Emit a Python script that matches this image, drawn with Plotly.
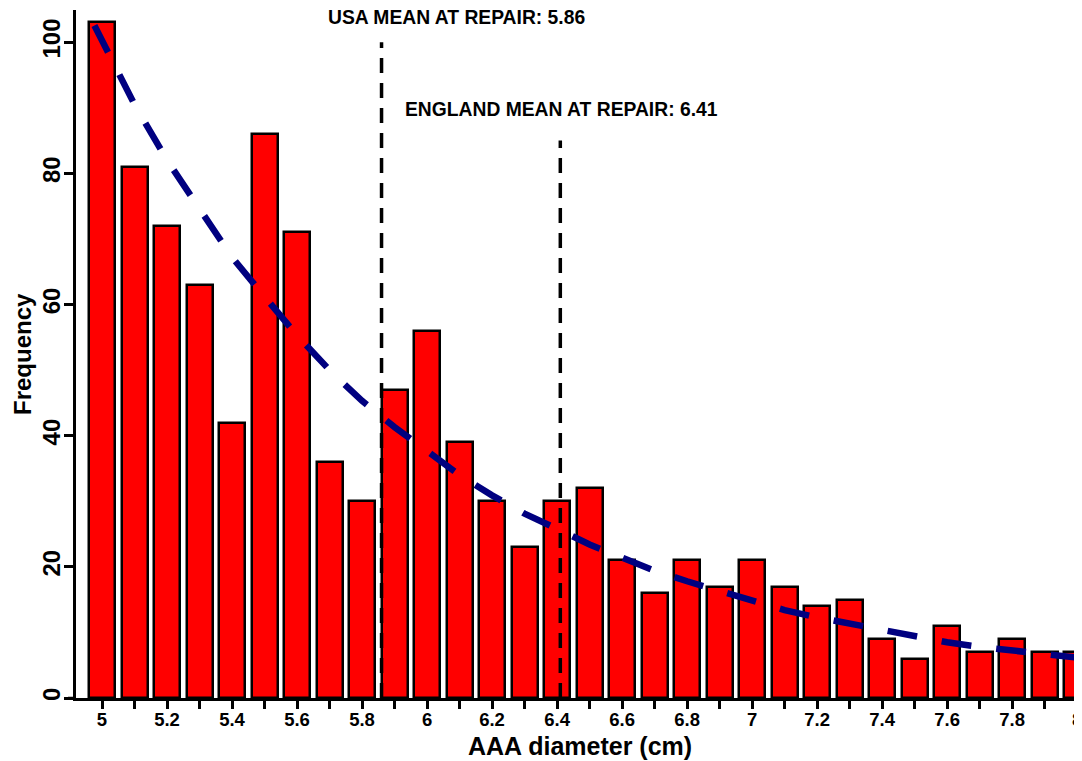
import plotly.graph_objects as go

# Histogram data (AAA diameter bins, cm) and frequencies
diameters = [5.0, 5.1, 5.2, 5.3, 5.4, 5.5, 5.6, 5.7, 5.8, 5.9, 6.0, 6.1, 6.2, 6.3, 6.4,
             6.5, 6.6, 6.7, 6.8, 6.9, 7.0, 7.1, 7.2, 7.3, 7.4, 7.5, 7.6, 7.7, 7.8, 7.9, 8.0]
frequency = [103, 81, 72, 63, 42, 86, 71, 36, 30, 47, 56, 39, 30, 23, 30,
             32, 21, 16, 21, 17, 21, 17, 14, 15, 9, 6, 11, 7, 9, 7, 7]

# Fitted curve
curve_x = [4.9, 5.0, 5.1, 5.2, 5.3, 5.4, 5.5, 5.6, 5.7, 5.8, 5.9, 6.0, 6.1, 6.2, 6.3, 6.4,
           6.5, 6.6, 6.7, 6.8, 6.9, 7.0, 7.1, 7.2, 7.3, 7.4, 7.5, 7.6, 7.7, 7.8, 7.9, 8.0, 8.1]
curve_y = [110, 100, 90.5, 82, 74.5, 67.2, 61.2, 55.3, 50.0, 45.3, 41.3, 37.5, 34.0, 30.9, 28.1, 25.8,
           23.4, 21.4, 19.4, 17.8, 16.3, 14.8, 13.4, 12.3, 11.3, 10.3, 9.3, 8.5, 7.8, 7.3, 6.7, 6.1, 5.6]

# Reference means
usa_mean = 5.86
england_mean = 6.41
usa_label = "USA MEAN AT REPAIR: 5.86"
england_label = "ENGLAND MEAN AT REPAIR: 6.41"

x_ticks = [5.0, 5.2, 5.4, 5.6, 5.8, 6.0, 6.2, 6.4, 6.6, 6.8, 7.0, 7.2, 7.4, 7.6, 7.8, 8.0]
x_tick_labels = ["5", "5.2", "5.4", "5.6", "5.8", "6", "6.2", "6.4", "6.6", "6.8",
                 "7", "7.2", "7.4", "7.6", "7.8", "8"]
y_ticks = [0, 20, 40, 60, 80, 100]
x_title = "AAA diameter (cm)"
y_title = "Frequency"

FONT = "Liberation Sans, Arial, sans-serif"

fig = go.Figure()
fig.add_trace(go.Bar(
    x=diameters, y=frequency, width=0.08,
    marker=dict(color="#ff0000", line=dict(color="black", width=2.5)),
    showlegend=False, hoverinfo="x+y",
))
fig.add_trace(go.Scatter(
    x=curve_x, y=curve_y, mode="lines",
    line=dict(color="#000080", width=6.5, dash="30px,25px"),
    showlegend=False,
))
fig.add_trace(go.Scatter(
    x=[usa_mean, usa_mean], y=[0, 100], mode="lines",
    line=dict(color="black", width=3.5, dash="15px,10px"), showlegend=False,
))
fig.add_trace(go.Scatter(
    x=[england_mean, england_mean], y=[0, 85], mode="lines",
    line=dict(color="black", width=3.5, dash="15px,10px"), showlegend=False,
))

fig.add_annotation(x=6.09, y=103.7, text=usa_label, showarrow=False,
                   xanchor="center", yanchor="middle",
                   font=dict(family=FONT, size=19.3, color="black", weight="bold"))
fig.add_annotation(x=6.415, y=89.8, text=england_label, showarrow=False,
                   xanchor="center", yanchor="middle",
                   font=dict(family=FONT, size=19.3, color="black", weight="bold"))

# Axis titles
fig.add_annotation(xref="x", yref="paper", x=6.47, y=0, yshift=-48,
                   text=x_title, showarrow=False, xanchor="center", yanchor="middle",
                   font=dict(family=FONT, size=25, color="black", weight="bold"))
fig.add_annotation(xref="paper", yref="paper", x=0, y=0.5, xshift=-54,
                   text=y_title, showarrow=False, textangle=-90,
                   xanchor="center", yanchor="middle",
                   font=dict(family=FONT, size=24, color="black", weight="bold"))

# x-axis line extension to the left of the y-axis
fig.add_shape(type="line", xref="paper", yref="paper", x0=-0.008, x1=0, y0=0, y1=0,
              line=dict(color="black", width=2.5))

fig.update_layout(
    width=1074, height=753,
    margin=dict(l=68, r=0, t=2, b=63, autoexpand=False),
    plot_bgcolor="white", paper_bgcolor="white",
    bargap=0,
    xaxis=dict(
        range=[4.92, 8.015], automargin=False,
        tickmode="array", tickvals=x_ticks, ticktext=x_tick_labels,
        ticks="outside", ticklen=8, tickwidth=2.5, tickcolor="black",
        minor=dict(tickmode="linear", tick0=4.9, dtick=0.1, ticks="outside",
                   ticklen=8, tickwidth=2.5, tickcolor="black"),
        showline=True, linecolor="black", linewidth=2.5,
        showgrid=False, zeroline=False,
        ticklabelstandoff=-5, ticklabeloverflow="allow",
        tickfont=dict(family=FONT, size=18.5, color="black", weight="bold"),
    ),
    yaxis=dict(
        range=[0, 104.9], automargin=False,
        tickmode="array", tickvals=y_ticks,
        tickangle=-90,
        ticks="outside", ticklen=9, tickwidth=2.5, tickcolor="black",
        showline=True, linecolor="black", linewidth=2.5,
        showgrid=False, zeroline=False,
        ticklabelstandoff=-5, ticklabeloverflow="allow",
        tickfont=dict(family=FONT, size=24, color="black", weight="bold"),
    ),
)

fig.write_html("out.html")
